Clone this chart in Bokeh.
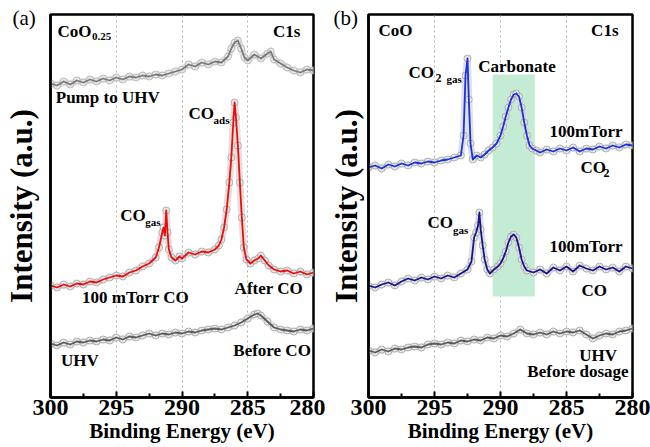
from bokeh.plotting import figure
from bokeh.layouts import row
from bokeh.models import Range1d, Label, FixedTicker, Title
from bokeh.embed import file_html
from bokeh.resources import INLINE

FONT = "Liberation Serif"

# ---------------- data (binding energy in eV, intensity in a.u., stacked offsets) ----------------
tick_values = [300, 295, 290, 285, 280]
minor_tick_values = [297.5, 292.5, 287.5, 282.5]
grid_values = [295, 290, 285]

# Panel (a) CoO0.25
a_pump_x = [300, 299.5, 299, 298.5, 298, 297.5, 297, 296.5, 296, 295.5, 295, 294.5, 294, 293.5, 293,
            292.5, 292, 291.5, 291, 290.5, 290, 289.5, 289, 288.5, 288, 287.5, 287, 286.5, 286.25, 286,
            285.75, 285.5, 285.25, 285, 284.5, 284, 283.5, 283.25, 283, 282.5, 282, 281.5, 281, 280.5, 280]
a_pump_y = [314, 312, 316, 313, 317, 315, 318, 316, 319, 317, 320, 318, 321, 320, 322,
            321, 323, 322, 324, 326, 328, 333, 331, 335, 333, 336, 335, 341, 349, 355,
            357, 349, 340, 337, 343, 339, 344, 346, 338, 334, 330, 327, 325, 328, 327]

a_co_x = [300, 299.5, 299, 298.5, 298, 297.5, 297, 296.5, 296, 295.5, 295, 294.5, 294, 293.5, 293,
          292.5, 292, 291.75, 291.5, 291.4, 291.3, 291.2, 291.1, 291.0, 290.8, 290.5, 290.2, 290,
          289.5, 289, 288.5, 288, 287.5, 287.2, 287, 286.8, 286.6, 286.4, 286.25, 286.1, 286.0, 285.9,
          285.75, 285.6, 285.45, 285.3, 285.1, 284.8, 284.5, 284.2, 284, 283.7, 283.4, 283, 282.5,
          282, 281.5, 281, 280.5, 280]
a_co_y = [112, 110, 113, 111, 114, 113, 116, 115, 118, 120, 122, 121, 125, 127, 131,
          134, 140, 150, 165, 170, 162, 187, 165, 148, 140, 137, 141, 139,
          145, 143, 146, 145, 148, 152, 158, 170, 188, 215, 240, 275, 295, 280,
          252, 215, 180, 150, 138, 134, 137, 139, 142, 137, 132, 128, 126,
          127, 124, 126, 123, 125]

a_uhv_x = [300, 299.5, 299, 298.5, 298, 297.5, 297, 296.5, 296, 295.5, 295, 294.5, 294, 293.5, 293,
           292.5, 292, 291.5, 291, 290.5, 290, 289.5, 289, 288.5, 288, 287.5, 287, 286.5, 286,
           285.5, 285, 284.5, 284.25, 284, 283.5, 283, 282.5, 282, 281.5, 281, 280.5, 280]
a_uhv_y = [54, 52, 55, 53, 56, 55, 57, 56, 58, 57, 60, 58, 61, 60, 62,
           64, 62, 64, 63, 65, 64, 66, 65, 67, 68, 69, 68, 70, 72,
           75, 79, 83, 84, 82, 76, 70, 68, 67, 66, 68, 67, 69]

# Panel (b) CoO
b_co2_x = [300, 299.5, 299, 298.5, 298, 297.5, 297, 296.5, 296, 295.5, 295, 294.5, 294, 293.5, 293,
           292.8, 292.65, 292.5, 292.4, 292.27, 292.1, 291.8, 291.5, 291.2, 290.9, 290.6, 290.3, 290.0,
           289.8, 289.6, 289.4, 289.2, 289.0, 288.8, 288.6, 288.4, 288.2, 288.0, 287.8, 287.6, 287.3,
           287, 286.5, 286, 285.5, 285, 284.5, 284, 283.5, 283, 282.5, 282, 281.5, 281, 280.5, 280]
b_co2_y = [230, 232, 229, 233, 231, 234, 232, 235, 234, 236, 235, 237, 238, 240, 242,
           262, 322, 339, 298, 254, 238, 242, 240, 243, 247, 250, 254, 262,
           271, 281, 290, 298, 303, 304, 301, 290, 275, 262, 252, 249, 247,
           245, 248, 246, 249, 247, 250, 246, 249, 248, 251, 249, 252, 250, 253, 252]

b_co_x = [300, 299.5, 299, 298.5, 298, 297.5, 297, 296.5, 296, 295.5, 295, 294.5, 294, 293.5, 293,
          292.5, 292.2, 292.0, 291.85, 291.7, 291.6, 291.5, 291.35, 291.2, 291.0, 290.8, 290.5, 290.2,
          290.0, 289.8, 289.6, 289.4, 289.2, 289.0, 288.8, 288.6, 288.4, 288.2, 288.0, 287.5, 287,
          286.5, 286, 285.5, 285, 284.5, 284, 283.5, 283, 282.5, 282, 281.5, 281, 280.5, 280]
b_co_y = [112, 110, 113, 115, 112, 116, 119, 117, 120, 118, 121, 119, 122, 120, 124,
          128, 136, 160, 165, 172, 185, 168, 152, 138, 128, 124, 128, 131,
          134, 139, 146, 155, 161, 163, 160, 150, 138, 131, 127, 125, 128,
          124, 130, 127, 131, 126, 132, 129, 127, 131, 128, 130, 126, 131, 129]

b_uhv_x = [300, 299.5, 299, 298.5, 298, 297.5, 297, 296.5, 296, 295.5, 295, 294.5, 294, 293.5, 293,
           292.5, 292, 291.5, 291, 290.5, 290, 289.5, 289, 288.5, 288, 287.5, 287, 286.5, 286,
           285.5, 285, 284.5, 284, 283.5, 283, 282.5, 282, 281.5, 281, 280.5, 280]
b_uhv_y = [47, 45, 48, 46, 49, 48, 50, 51, 50, 53, 54, 53, 55, 54, 57,
           56, 58, 57, 60, 59, 62, 61, 64, 68, 64, 63, 65, 63, 66,
           64, 66, 65, 67, 63, 59, 62, 64, 63, 66, 67, 69]

carbonate_band_eV = [290.6, 287.4]
carbonate_band_intensity = [101, 323]


def make_panel(border_left, border_right, frame_w, label_standoff, tag, tag_offset):
    p = figure(frame_width=frame_w, frame_height=383,
               x_range=Range1d(300, 280), y_range=Range1d(0, 383),
               min_border_left=border_left, min_border_right=border_right,
               min_border_top=14, min_border_bottom=50,
               output_backend="svg", toolbar_location=None,
               background_fill_color="white", border_fill_color="white")
    p.add_layout(Title(text=tag, align="left", offset=tag_offset, standoff=-30,
                       vertical_align="bottom", text_font=FONT, text_font_style="normal",
                       text_font_size="21px", text_color="black"), "above")
    p.outline_line_color = "black"
    p.outline_line_width = 2.5
    p.ygrid.visible = False
    p.xgrid.ticker = FixedTicker(ticks=grid_values)
    p.xgrid.grid_line_color = "#b0b0b0"
    p.xgrid.grid_line_dash = "2 3"
    p.xgrid.grid_line_width = 1

    xa = p.xaxis[0]
    xa.ticker = FixedTicker(ticks=tick_values, minor_ticks=minor_tick_values)
    xa.axis_line_color = "black"
    xa.axis_line_width = 2.5
    xa.major_tick_in = 6
    xa.major_tick_out = 0
    xa.minor_tick_in = 4
    xa.minor_tick_out = 0
    xa.major_tick_line_width = 2
    xa.minor_tick_line_width = 2
    xa.major_label_text_font = FONT
    xa.major_label_text_font_style = "bold"
    xa.major_label_text_font_size = "24px"
    xa.major_label_text_color = "black"
    xa.major_label_standoff = 2
    xa.axis_label = "Binding Energy (eV)"
    xa.axis_label_text_font = FONT
    xa.axis_label_text_font_style = "bold"
    xa.axis_label_text_font_size = "21px"
    xa.axis_label_text_color = "black"
    xa.axis_label_standoff = 1

    ya = p.yaxis[0]
    ya.ticker = FixedTicker(ticks=[])
    ya.axis_line_color = "black"
    ya.axis_line_width = 2.5
    ya.major_tick_line_color = None
    ya.minor_tick_line_color = None
    ya.major_label_text_font_size = "0px"
    ya.axis_label = "Intensity (a.u.)"
    ya.axis_label_text_font = FONT
    ya.axis_label_text_font_style = "bold"
    ya.axis_label_text_font_size = "31px"
    ya.axis_label_text_color = "black"
    ya.axis_label_standoff = label_standoff
    return p


def spectrum(p, x, y, color, halo="#a8a8a8"):
    p.line(x, y, line_color="#d8d8d8", line_width=7, line_join="round", line_cap="round", line_alpha=0.8)
    p.scatter(x, y, size=7, marker="circle", fill_color="white", fill_alpha=0.25,
              line_color=halo, line_width=0.9)
    p.line(x, y, line_color=color, line_width=1.8, line_join="round")


def txt(p, x, y, s, size="17px", align="left", bold=True):
    p.add_layout(Label(x=x, y=y, text=s, text_font=FONT,
                       text_font_style="bold" if bold else "normal",
                       text_font_size=size, text_align=align, text_baseline="middle",
                       text_color="black"))


# ---------------- panel (a) ----------------
pa = make_panel(50, 12, 263, 12, "(a)", -38)
spectrum(pa, a_pump_x, a_pump_y, "#7a7a7a", halo="#b5b5b5")
spectrum(pa, a_co_x, a_co_y, "#f00a0a")
spectrum(pa, a_uhv_x, a_uhv_y, "#5a5a5a")

txt(pa, 299.47, 366, "CoO")
txt(pa, 296.85, 361, "0.25", size="11px")
txt(pa, 281.0, 366, "C1s", align="right")
txt(pa, 299.6, 300, "Pump to UHV")
txt(pa, 289.5, 284, "CO")
txt(pa, 287.6, 278, "ads", size="11px")
txt(pa, 294.7, 182, "CO")
txt(pa, 292.8, 176, "gas", size="11px")
txt(pa, 297.6, 100, "100 mTorr CO")
txt(pa, 286.0, 109, "After CO")
txt(pa, 299.2, 37, "UHV")
txt(pa, 280.2, 47, "Before CO", align="right")

# ---------------- panel (b) ----------------
pb = make_panel(43, 18, 264, 5, "(b)", -35)
pb.quad(left=[carbonate_band_eV[0]], right=[carbonate_band_eV[1]],
        bottom=[carbonate_band_intensity[0]], top=[carbonate_band_intensity[1]],
        fill_color="#c4ecd4", line_color=None)
spectrum(pb, b_co2_x, b_co2_y, "#1a32dc")
spectrum(pb, b_co_x, b_co_y, "#16168e")
spectrum(pb, b_uhv_x, b_uhv_y, "#5a5a5a")

txt(pb, 299.24, 367, "CoO")
txt(pb, 281.06, 367, "C1s", align="right")
txt(pb, 296.97, 325, "CO")
txt(pb, 294.92, 320, "2", size="12px")
txt(pb, 294.1, 319, "gas", size="11px")
txt(pb, 288.75, 331, "Carbonate", align="center")
txt(pb, 280.76, 266, "100mTorr", align="right")
txt(pb, 283.94, 230, "CO")
txt(pb, 282.2, 225, "2", size="12px")
txt(pb, 295.53, 175, "CO")
txt(pb, 293.6, 168, "gas", size="11px")
txt(pb, 280.76, 151, "100mTorr", align="right")
txt(pb, 282.9, 107, "CO", align="center")
txt(pb, 282.6, 42, "UHV", align="center")
txt(pb, 280.3, 26, "Before dosage", align="right")

layout = row(pa, pb, spacing=0)
open("out.html", "w").write(file_html(layout, INLINE))
